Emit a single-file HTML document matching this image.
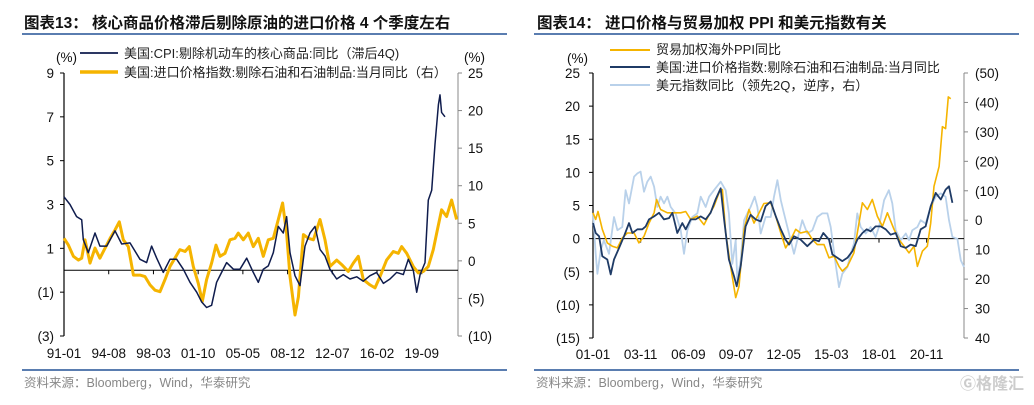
<!DOCTYPE html>
<html><head><meta charset="utf-8">
<style>
body{margin:0;background:#fff;width:1034px;height:400px;overflow:hidden;font-family:"Liberation Sans","Noto Sans CJK SC",sans-serif;}
svg text{font-family:"Liberation Sans","Noto Sans CJK SC",sans-serif;}
</style></head>
<body>
<svg id="c" width="1034" height="400" viewBox="0 0 1034 400" xmlns="http://www.w3.org/2000/svg">
<text x="24" y="28" font-size="15.5" font-weight="bold" fill="#111">图表13：  核心商品价格滞后剔除原油的进口价格 4 个季度左右</text>
<rect x="22" y="33" width="485" height="2" fill="#5a7db0"/>
<rect x="22" y="369" width="485" height="2" fill="#5a7db0"/>
<text x="24" y="387" font-size="12.5" fill="#888">资料来源：Bloomberg，Wind，华泰研究</text>
<text x="537" y="28" font-size="15.5" font-weight="bold" fill="#111">图表14：  进口价格与贸易加权 PPI 和美元指数有关</text>
<rect x="534" y="33" width="485" height="2" fill="#5a7db0"/>
<rect x="534" y="369" width="485" height="2" fill="#5a7db0"/>
<text x="536" y="387" font-size="12.5" fill="#888">资料来源：Bloomberg，Wind，华泰研究</text>
<text x="960" y="389" font-size="16" font-weight="bold" fill="#ccc">Ⓖ格隆汇</text>
<g id="L"></g>
<g id="R"></g>
</svg>
<script>
// ---- Left chart data ----
const cpiDates=[1991.00,1991.48,1992.01,1992.42,1992.55,1992.95,1993.48,1993.88,1994.42,1995.09,1995.62,1996.29,1997.09,1997.62,1998.02,1998.43,1998.96,1999.49,2000.03,2000.56,2001.10,2001.63,2002.03,2002.43,2002.83,2003.23,2003.63,2004.03,2004.57,2005.10,2005.64,2006.17,2006.57,2006.97,2007.37,2007.77,2008.17,2008.57,2008.84,2009.11,2009.51,2009.91,2010.31,2010.71,2011.11,2011.51,2011.91,2012.31,2012.85,2013.38,2013.92,2014.45,2014.98,2015.52,2016.05,2016.59,2017.12,2017.66,2018.19,2018.59,2018.99,2019.26,2019.53,2019.93,2020.19,2020.46,2020.73,2021.00,2021.13,2021.26,2021.53];
const cpiValues=[3.35,3.0,2.45,2.3,1.4,0.8,1.7,1.1,1.1,1.8,1.2,1.25,0.5,0.35,1.1,0.55,-0.1,0.5,0.5,0.05,-0.55,-1.0,-1.45,-1.7,-1.6,-0.55,-0.1,0.35,0.05,0.05,0.55,-0.1,-0.55,0.05,0.2,0.8,2.0,1.7,2.45,0.8,-0.25,-0.7,1.1,1.7,2.0,0.95,0.65,0.05,-0.4,-0.2,-0.4,-0.3,-0.5,-0.25,-0.1,-0.6,-0.4,-0.1,-0.2,0.5,0,-1.0,-0.2,0.35,3.2,3.65,5.75,7.55,8.0,7.2,7.0];
const impDates=[1991.00,1991.35,1991.75,1992.15,1992.42,1992.68,1993.08,1993.48,1993.88,1994.29,1994.69,1995.09,1995.43,1995.75,1996.15,1996.56,1997.09,1997.49,1997.89,1998.29,1998.69,1999.09,1999.49,1999.89,2000.29,2000.70,2001.04,2001.36,2001.76,2002.08,2002.43,2002.83,2003.18,2003.50,2003.90,2004.30,2004.70,2004.97,2005.37,2005.77,2006.17,2006.57,2006.97,2007.37,2007.77,2008.17,2008.52,2008.84,2009.11,2009.51,2009.78,2010.18,2010.58,2010.98,2011.51,2011.91,2012.31,2012.85,2013.25,2013.78,2014.18,2014.58,2014.98,2015.52,2015.92,2016.32,2016.85,2017.39,2017.79,2018.06,2018.46,2018.99,2019.39,2019.79,2020.19,2020.59,2020.86,2021.26,2021.66,2022.06,2022.46];
const impValues=[3.0,2.1,0.6,0.1,0.35,2.8,-0.3,1.7,0.35,1.7,3.0,4.1,5.2,2.8,1.9,-1.9,-1.9,-2.1,-3.2,-3.9,-4.1,-2.5,-0.75,0.35,1.5,1.25,1.9,-0.75,-3.0,-5.4,-2.5,-0.3,2.1,0.6,1.0,2.8,3.0,3.7,2.8,3.7,1.9,3.0,0.6,2.8,3.0,5.5,7.7,3.7,-2.1,-7.2,-4.8,3.5,3.0,2.8,5.5,2.8,-0.75,0.1,-0.5,-1.4,-0.3,0.6,-2.5,-3.2,-3.6,-2.1,0.1,1.25,1.0,1.9,1.0,-0.75,-1.6,-1.4,-0.75,1.5,3.7,6.8,5.9,8.1,5.5];
const leftTicks=[9,7,5,3,1,-1,-3];
const leftTickLabels=["9","7","5","3","1","(1)","(3)"];
const rightTicks=[25,20,15,10,5,0,-5,-10];
const rightTickLabels=["25","20","15","10","5","0","(5)","(10)"];
const leftXTicks=[1991.0,1994.583,1998.167,2001.75,2005.333,2008.917,2012.5,2016.083,2019.667];
const leftXLabels=["91-01","94-08","98-03","01-10","05-05","08-12","12-07","16-02","19-09"];
// ---- Right chart data ----
const ppiDates=[2001.00,2001.16,2001.30,2001.55,2001.85,2002.15,2002.45,2002.74,2003.04,2003.44,2003.73,2004.03,2004.33,2004.63,2004.78,2005.02,2005.42,2005.81,2006.21,2006.51,2006.81,2007.20,2007.60,2007.90,2008.19,2008.49,2008.69,2008.89,2009.18,2009.48,2009.68,2009.98,2010.27,2010.57,2010.87,2011.16,2011.56,2011.86,2012.16,2012.45,2012.75,2013.05,2013.34,2013.74,2014.04,2014.33,2014.73,2015.03,2015.33,2015.62,2015.82,2016.12,2016.51,2016.71,2017.01,2017.31,2017.60,2017.90,2018.20,2018.50,2018.89,2019.19,2019.49,2019.78,2020.08,2020.28,2020.58,2020.87,2021.07,2021.27,2021.57,2021.77,2021.96,2022.12,2022.26];
const ppiValues=[3.9,2.9,4.1,1.4,-0.65,-1.15,-1.4,0.1,0.85,0.85,-0.65,0.35,2.35,3.9,5.9,4.4,3.9,3.9,3.9,4.1,2.9,3.4,2.1,3.6,4.9,6.9,7.4,0.85,-4.2,-8.9,-7.2,1.4,4.4,2.35,3.9,5.3,5.4,3.4,0.85,-1.4,-0.15,1.4,0.85,1.1,-0.15,-0.9,-0.9,-2.9,-2.65,-4.2,-4.9,-4.2,-2.15,0.85,5.4,4.4,5.9,3.4,1.85,3.9,1.4,-0.15,-1.15,-2.15,-1.15,-4.2,-1.9,-1.15,2.35,7.9,10.9,16.9,16.6,21.4,21.1];
const ipDates=[2001.00,2001.16,2001.36,2001.55,2001.85,2002.05,2002.25,2002.55,2002.84,2003.14,2003.34,2003.64,2003.93,2004.13,2004.33,2004.63,2004.92,2005.22,2005.52,2005.72,2006.01,2006.31,2006.51,2006.81,2007.10,2007.40,2007.70,2007.99,2008.29,2008.59,2008.79,2009.08,2009.38,2009.54,2009.78,2010.07,2010.37,2010.67,2010.97,2011.26,2011.56,2011.86,2012.16,2012.45,2012.65,2012.95,2013.34,2013.74,2014.14,2014.43,2014.69,2015.03,2015.23,2015.52,2015.82,2016.12,2016.42,2016.71,2017.01,2017.27,2017.50,2017.80,2018.10,2018.40,2018.69,2018.99,2019.29,2019.59,2019.88,2020.18,2020.48,2020.77,2021.07,2021.37,2021.67,2021.96,2022.16,2022.36];
const ipValues=[2.35,0.85,0.35,-2.65,-3.15,-5.4,-3.15,-1.4,0.35,2.35,0.85,1.4,1.4,1.85,2.9,3.35,3.9,2.9,3.1,3.9,0.85,2.35,1.4,2.9,2.9,3.35,2.9,3.9,5.9,7.6,2.9,-3.15,-5.65,-7.2,-4.15,1.85,3.6,2.9,2.6,4.9,5.6,3.4,1.4,-0.15,-0.9,0.35,-0.15,-1.15,-0.15,-0.4,0.85,-0.15,-2.4,-2.9,-3.4,-2.9,-1.9,-0.15,0.85,1.4,1.1,1.85,1.85,1.4,0.6,0.85,-1.15,-1.4,-0.9,-1.15,1.4,1.85,4.9,6.9,5.9,7.4,7.9,5.4];
const usdDates=[2001.00,2001.16,2001.26,2001.46,2001.65,2001.95,2002.25,2002.45,2002.74,2002.94,2003.14,2003.44,2003.64,2003.83,2004.03,2004.23,2004.43,2004.63,2004.82,2005.02,2005.22,2005.42,2005.62,2005.91,2006.21,2006.41,2006.61,2006.90,2007.20,2007.40,2007.70,2007.90,2008.19,2008.59,2008.89,2009.08,2009.28,2009.48,2009.58,2009.78,2009.98,2010.17,2010.37,2010.61,2010.77,2010.97,2011.26,2011.56,2011.76,2011.96,2012.16,2012.35,2012.65,2012.95,2013.24,2013.44,2013.74,2014.04,2014.33,2014.63,2014.93,2015.13,2015.42,2015.62,2015.82,2016.12,2016.32,2016.51,2016.71,2016.91,2017.21,2017.50,2017.80,2018.00,2018.30,2018.59,2018.79,2018.99,2019.29,2019.59,2019.78,2019.98,2020.28,2020.48,2020.77,2021.07,2021.37,2021.67,2021.96,2022.16,2022.36,2022.66,2022.86,2023.05];
const usdValues=[-2.3,11.4,18.2,10.2,6.8,11.4,-1.1,3.4,2.3,-10.2,-5.7,-14.8,-15.9,-16.5,-9.7,-13.1,-14.8,-11.4,-4.5,-8.0,-5.7,-8.0,-4.5,-2.3,3.4,11.4,3.4,-1.1,-2.3,-8.0,-4.5,-8.0,-10.2,-13.1,-10.2,-2.3,14.8,6.8,20.5,13.6,0,-2.3,-4.5,-8.0,-4.5,4.5,-1.1,-1.1,-8.0,-13.6,-6.8,-2.3,4.5,11.4,4.5,0,4.5,3.4,-1.1,-2.3,-2.3,2.3,14.8,22.7,18.2,15.9,11.4,8.0,-2.3,2.3,4.5,2.3,5.7,2.3,-6.8,-10.2,-5.7,3.4,6.8,4.5,6.8,3.4,2.3,0,1.1,-4.5,-8.0,-9.1,-8.0,0,5.7,6.3,13.6,15.9];
const rLeftTicks=[25,20,15,10,5,0,-5,-10,-15];
const rLeftLabels=["25","20","15","10","5","0","(5)","(10)","(15)"];
const rRightTicks=[-50,-40,-30,-20,-10,0,10,20,30,40];
const rRightLabels=["(50)","(40)","(30)","(20)","(10)","0","10","20","30","40"];
const rXTicks=[2001.0,2003.833,2006.667,2009.5,2012.333,2015.167,2018.0,2020.833];
const rXLabels=["01-01","03-11","06-09","09-07","12-05","15-03","18-01","20-11"];

const NS="http://www.w3.org/2000/svg";
function mk(parent,tag,attrs){const e=document.createElementNS(NS,tag);for(const k in attrs)e.setAttribute(k,attrs[k]);parent.appendChild(e);return e;}
function txt(parent,x,y,s,anchor,size,fill){const t=mk(parent,'text',{x:x,y:y,'text-anchor':anchor,'font-size':size,fill:fill||'#111'});t.textContent=s;return t;}

// ---- Left chart ----
(function(){
const g=document.getElementById('L');
const x0=64,x1=458,yT=73,yB=336;
const xs=d=>x0+(d-1991.0)*12*1.04;
const yl=v=>yT+(9-v)*(yB-yT)/12;
const yr=v=>yT+(25-v)*(yB-yT)/35;
let a=mk(g,'line',{x1:x0,y1:yT,x2:x0,y2:yB,stroke:'#000','stroke-width':1.2});


a=mk(g,'line',{x1:x1,y1:yT,x2:x1,y2:yB,stroke:'#888','stroke-width':1});


leftTicks.forEach((v,i)=>{mk(g,'line',{x1:x0-4,y1:yl(v),x2:x0,y2:yl(v),stroke:'#000'});
 const t=txt(g,54,yl(v)+5,leftTickLabels[i],'end',13.5);
 
 });
rightTicks.forEach((v,i)=>{mk(g,'line',{x1:x1,y1:yr(v),x2:x1+4,y2:yr(v),stroke:'#888'});
 const t=txt(g,468,yr(v)+5,rightTickLabels[i],'start',13.5);
 
 });
let t=txt(g,56,62,'(%)','start',13.5);


t=txt(g,464,62,'(%)','start',13.5);


a=mk(g,'line',{x1:x0,y1:yl(0),x2:x1,y2:yl(0),stroke:'#000','stroke-width':1});


leftXTicks.forEach((d,i)=>{mk(g,'line',{x1:xs(d),y1:yl(0),x2:xs(d),y2:yl(0)+4,stroke:'#000'});
 const t=txt(g,xs(d),358,leftXLabels[i],'middle',13.5);
 
 });
let p=mk(g,'path',{d:impDates.map((d,i)=>(i?'L':'M')+xs(d).toFixed(1)+','+yr(impValues[i]).toFixed(1)).join(''),fill:'none',stroke:'#f5b400','stroke-width':3,'stroke-linejoin':'round'});


p=mk(g,'path',{d:cpiDates.map((d,i)=>(i?'L':'M')+xs(d).toFixed(1)+','+yl(cpiValues[i]).toFixed(1)).join(''),fill:'none',stroke:'#0f1c4d','stroke-width':1.5,'stroke-linejoin':'round'});


p=mk(g,'line',{x1:80,y1:53,x2:118,y2:53,stroke:'#0f1c4d','stroke-width':1.8});


t=txt(g,124,58,'美国:CPI:剔除机动车的核心商品:同比（滞后4Q)','start',13,'#222');


p=mk(g,'line',{x1:80,y1:72,x2:118,y2:72,stroke:'#f5b400','stroke-width':3.5});


t=txt(g,124,77,'美国:进口价格指数:剔除石油和石油制品:当月同比（右）','start',13,'#222');


})();

// ---- Right chart ----
(function(){
const g=document.getElementById('R');
const x0=593,x1=964,yT=73,yB=338;
const xs=d=>x0+(d-2001.0)*12*1.402;
const yl=v=>yT+(25-v)*(yB-yT)/40;
const yr=v=>yT+(v+50)*(yB-yT)/90;
let a=mk(g,'line',{x1:x0,y1:yT,x2:x0,y2:yB,stroke:'#000','stroke-width':1.2});


a=mk(g,'line',{x1:x1,y1:yT,x2:x1,y2:yB,stroke:'#888','stroke-width':1});


rLeftTicks.forEach((v,i)=>{mk(g,'line',{x1:x0-4,y1:yl(v),x2:x0,y2:yl(v),stroke:'#000'});
 const t=txt(g,580,yl(v)+5,rLeftLabels[i],'end',13.5);
 
 });
rRightTicks.forEach((v,i)=>{mk(g,'line',{x1:x1,y1:yr(v),x2:x1+4,y2:yr(v),stroke:'#888'});
 const t=txt(g,975,yr(v)+5,rRightLabels[i],'start',13.5);
 
 });
let t=txt(g,567,63,'(%)','start',13.5);


a=mk(g,'line',{x1:x0,y1:yl(0),x2:x1,y2:yl(0),stroke:'#000','stroke-width':1});


rXTicks.forEach((d,i)=>{mk(g,'line',{x1:xs(d),y1:yl(0),x2:xs(d),y2:yl(0)+4,stroke:'#000'});
 const t=txt(g,xs(d),359,rXLabels[i],'middle',13.5);
 
 });
let p=mk(g,'path',{d:usdDates.map((d,i)=>(i?'L':'M')+xs(d).toFixed(1)+','+yr(usdValues[i]).toFixed(1)).join(''),fill:'none',stroke:'#b9d1ea','stroke-width':1.8,'stroke-linejoin':'round'});


p=mk(g,'path',{d:ppiDates.map((d,i)=>(i?'L':'M')+xs(d).toFixed(1)+','+yl(ppiValues[i]).toFixed(1)).join(''),fill:'none',stroke:'#f5b400','stroke-width':1.6,'stroke-linejoin':'round'});


p=mk(g,'path',{d:ipDates.map((d,i)=>(i?'L':'M')+xs(d).toFixed(1)+','+yl(ipValues[i]).toFixed(1)).join(''),fill:'none',stroke:'#1f3b66','stroke-width':1.8,'stroke-linejoin':'round'});


p=mk(g,'line',{x1:610,y1:50,x2:650,y2:50,stroke:'#f5b400','stroke-width':2});


t=txt(g,656,54,'贸易加权海外PPI同比','start',13,'#222');


p=mk(g,'line',{x1:610,y1:67,x2:650,y2:67,stroke:'#1f3b66','stroke-width':2});


t=txt(g,656,72,'美国:进口价格指数:剔除石油和石油制品:当月同比','start',13,'#222');


p=mk(g,'line',{x1:610,y1:85,x2:650,y2:85,stroke:'#b9d1ea','stroke-width':2});


t=txt(g,656,90,'美元指数同比（领先2Q，逆序，右）','start',13,'#222');


})();
</script>
</body></html>
